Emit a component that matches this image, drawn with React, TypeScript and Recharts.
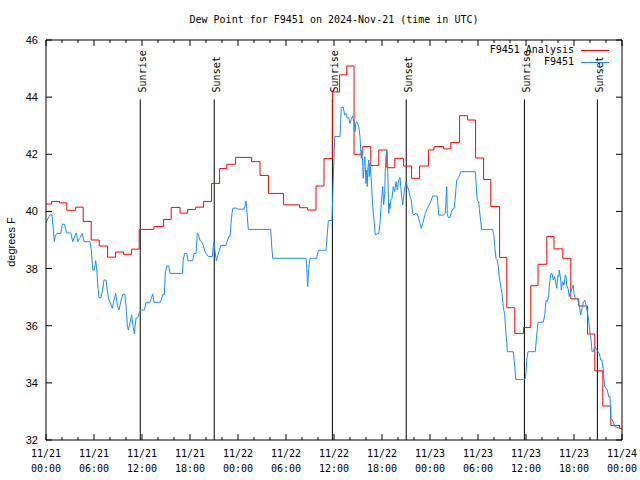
import React from 'react';
import { LineChart, Line, XAxis, YAxis, ReferenceLine } from 'recharts';

// hours since 11/21 00:00 UTC, dew point in degrees F
const analysisHours = [
  0, 0.7, 1.7, 2.6, 3.7, 4.65, 5.65, 6.65, 7.7, 8.7, 9.7, 10.7, 11.65, 13.5, 14.7,
  15.65, 16.75, 17.7, 18.7, 19.7, 20.7, 21.7, 22.6, 23.7, 25.7, 26.75, 27.8, 29.7,
  31.7, 32.7, 33.75, 34.75, 35.8, 36.7, 37.6, 38.5, 39.6, 40.6, 41.6, 42.6, 43.6,
  44.7, 45.7, 46.7, 47.8, 48.5, 49.7, 50.6, 51.7, 52.7, 53.7, 54.7, 55.6, 56.7,
  57.6, 58.6, 59.7, 60.6, 61.5, 62.6, 63.5, 64.6, 65.6, 66.6, 67.7, 68.6, 69.6,
  70.6, 71.7, 72,
];
const analysisDew = [
  40.26, 40.35, 40.3, 40.04, 40.15, 39.65, 39.0, 38.79, 38.4, 38.58, 38.5, 38.68,
  39.37, 39.47, 39.72, 40.14, 39.94, 40.07, 40.15, 40.35, 40.98, 41.5, 41.65, 41.89,
  41.74, 41.26, 40.63, 40.23, 40.13, 40.05, 40.89, 41.85, 44.18, 44.78, 45.09, 42.0,
  42.27, 41.61, 42.15, 41.53, 41.86, 41.59, 41.16, 41.59, 42.15, 42.27, 42.19, 42.41,
  43.35, 43.2, 41.87, 41.12, 40.17, 38.39, 36.63, 35.73, 35.94, 37.4, 38.15, 39.12,
  38.69, 38.36, 36.94, 36.69, 35.71, 34.42, 33.19, 32.51, 32.4, 32.4,
];

// station readings [hour, dew]
const obsDay1 = [
  [0, 39.6], [0.25, 39.76], [0.5, 39.88], [0.75, 39.88], [0.91, 39.35], [1.04, 38.94],
  [1.16, 39.14], [1.34, 39.23], [1.85, 39.23], [2.04, 39.55], [2.3, 39.55], [2.59, 39.25],
  [3.1, 39.25], [3.34, 38.94], [3.55, 39.1], [3.79, 39.25], [3.98, 38.94], [4.2, 39.05],
  [4.54, 39.23], [4.75, 38.94], [5.5, 38.94], [5.66, 38.67], [5.84, 37.95], [6.05, 37.95],
  [6.21, 38.28], [6.35, 37.95], [6.5, 37.31], [6.63, 36.98], [6.85, 36.98], [7.05, 37.2],
  [7.25, 37.6], [7.5, 37.6], [7.65, 37.25], [7.84, 36.93], [8.05, 36.8], [8.29, 36.61],
  [8.5, 36.9], [8.71, 37.13], [8.92, 36.7], [9.13, 36.55], [9.35, 36.85], [9.59, 37.1],
  [9.85, 37.1], [10.0, 36.7], [10.16, 36.03], [10.29, 35.85], [10.5, 36.1], [10.71, 36.38],
  [10.9, 35.95], [11.04, 35.71], [11.25, 36.26], [11.5, 36.3], [11.71, 36.49], [11.91, 36.55],
  [12.3, 36.55], [12.5, 36.82], [13.0, 36.82], [13.15, 36.95], [13.34, 37.1], [13.5, 36.82],
  [14.3, 36.82], [14.45, 36.95], [14.59, 37.1], [14.8, 37.1], [14.91, 37.83], [15.09, 38.09],
  [15.35, 38.09], [15.5, 37.83], [17.05, 37.83], [17.16, 38.32], [17.34, 38.53], [17.6, 38.53],
  [17.75, 38.27], [18.33, 38.27], [18.5, 38.53], [18.75, 38.53], [18.91, 39.23], [19.05, 39.2],
  [19.25, 38.98], [19.45, 38.95], [19.66, 38.8], [19.88, 38.59], [20.29, 38.42], [20.79, 38.42],
  [20.91, 38.79], [21.0, 38.92], [21.13, 38.6], [21.29, 38.27], [21.46, 38.45], [21.66, 38.62],
  [21.84, 38.81], [22.5, 38.81], [22.66, 38.95], [22.84, 39.12], [23.0, 39.12], [23.16, 39.7],
  [23.34, 40.11], [23.75, 40.12], [24.04, 40.08],
];
const obsDay2 = [
  [24.75, 40.08], [24.88, 40.2], [25.0, 40.37], [25.09, 40.1], [25.29, 39.37], [28.09, 39.37],
  [28.21, 38.8], [28.34, 38.36], [32.5, 38.36], [32.59, 38.0], [32.71, 37.37], [32.84, 38.0],
  [33.0, 38.36], [33.84, 38.36], [33.96, 38.55], [34.09, 38.64], [35.0, 38.64], [35.16, 39.2],
  [35.29, 39.68], [35.75, 39.68], [35.91, 41.1], [36.09, 42.62], [36.75, 42.62], [36.91, 43.64],
  [37.16, 43.64], [37.34, 43.37], [37.5, 43.43], [37.66, 43.26], [37.84, 43.29], [38.0, 43.08],
  [38.16, 43.22], [38.34, 43.34], [38.5, 43.14], [38.63, 42.79], [38.75, 43.12], [38.91, 43.12],
  [39.09, 42.97], [39.25, 42.62], [39.34, 42.15], [39.41, 41.86], [39.5, 42.15], [39.59, 41.57],
  [39.66, 41.16], [39.75, 41.57], [39.84, 41.92], [39.91, 41.57], [40.0, 40.98], [40.09, 41.45],
  [40.16, 40.87], [40.25, 41.57], [40.34, 41.8], [40.41, 41.22], [40.5, 41.68], [40.66, 41.1],
  [40.84, 40.17], [41.0, 39.7], [41.16, 39.18], [41.59, 39.23], [41.75, 39.58], [41.91, 40.28],
  [42.09, 40.87], [42.21, 40.23], [42.34, 40.63], [42.41, 41.45], [42.5, 41.92], [42.59, 42.15],
  [42.66, 42.03], [42.75, 41.04], [42.84, 39.93], [42.91, 40.28], [43.0, 40.1], [43.09, 40.4],
  [43.25, 40.46], [43.41, 40.87], [43.59, 40.69], [43.75, 41.04], [43.91, 40.75], [44.09, 41.1],
  [44.25, 41.19], [44.34, 40.87], [44.46, 40.52], [44.59, 40.23], [44.66, 40.4], [44.84, 40.81],
  [45.0, 41.04], [45.16, 40.87], [45.34, 40.75], [45.5, 40.52], [45.66, 40.4], [45.84, 39.93],
  [46.0, 39.87], [46.16, 39.93], [46.41, 39.91], [46.59, 39.76], [46.75, 39.58], [46.91, 39.41],
  [47.09, 39.58], [47.25, 39.76], [47.41, 39.93], [47.66, 40.1], [47.91, 40.23],
];
const obsDay3 = [
  [48.16, 40.4], [48.34, 40.54], [48.91, 40.54], [49.09, 39.87], [49.66, 39.87], [49.91, 39.93],
  [50.09, 40.87], [50.16, 39.93], [50.29, 39.79], [50.5, 39.79], [50.75, 40.05], [51.0, 40.1],
  [51.13, 40.4], [51.34, 41.1], [51.59, 41.19], [51.84, 41.39], [53.66, 41.39], [53.75, 41.04],
  [53.91, 40.4], [54.09, 40.34], [54.16, 40.11], [54.34, 39.64], [54.46, 39.37], [55.84, 39.37],
  [56.0, 39.12], [56.13, 38.65], [56.25, 38.36], [56.41, 38.3], [56.54, 38.07], [56.66, 37.72],
  [56.84, 37.37], [57.0, 37.13], [57.16, 36.67], [57.34, 36.38], [57.41, 36.08], [57.5, 35.73],
  [57.59, 35.44], [57.66, 35.09], [58.41, 35.09], [58.5, 34.86], [58.63, 34.45], [58.71, 34.12],
  [59.88, 34.12], [60.0, 34.39], [60.09, 34.8], [60.25, 35.09], [61.16, 35.09], [61.34, 35.67],
  [61.5, 36.12], [62.16, 36.12], [62.34, 36.38], [62.5, 36.88], [62.66, 36.84], [62.84, 37.04],
  [62.91, 37.37], [63.09, 37.81], [63.25, 37.83], [63.41, 37.6], [63.59, 37.72], [63.75, 37.46],
  [63.84, 37.31], [64.0, 37.78], [64.09, 37.72], [64.16, 37.95], [64.25, 37.78], [64.34, 37.6],
  [64.41, 37.25], [64.59, 37.54], [64.75, 37.42], [64.91, 37.78], [65.0, 37.72], [65.09, 37.42],
  [65.25, 37.31], [65.41, 37.02], [65.59, 37.2], [65.75, 37.31], [65.91, 37.42], [66.0, 37.13],
  [66.16, 36.96], [66.41, 36.96], [66.59, 36.79], [66.75, 36.55], [66.84, 36.38], [67.0, 36.6],
  [67.16, 36.79], [67.34, 36.9], [67.5, 36.73], [67.66, 36.49], [67.84, 36.2], [68.0, 35.73],
  [68.16, 35.44], [68.25, 35.09], [68.41, 35.09], [68.59, 35.27], [68.75, 35.21], [69.0, 35.09],
  [69.16, 35.03], [69.34, 34.8], [69.5, 34.8], [69.66, 34.45], [69.84, 33.87], [70.16, 33.75],
  [70.34, 33.52], [70.5, 33.52], [70.59, 32.76], [70.75, 32.71], [70.91, 32.64], [71.09, 32.47],
  [71.5, 32.43], [71.66, 32.41],
];

const sunEvents = ['Sunrise', 'Sunset', 'Sunrise', 'Sunset', 'Sunrise', 'Sunset'];
const sunHours = [11.78, 21.03, 35.8, 45.03, 59.8, 68.92];
const sunLineTop = 43.92;

const xTickHours = [
  0, 2, 4, 6, 8, 10, 12, 14, 16, 18, 20, 22, 24, 26, 28, 30, 32, 34, 36,
  38, 40, 42, 44, 46, 48, 50, 52, 54, 56, 58, 60, 62, 64, 66, 68, 70, 72,
];
const xMajorHours = [0, 6, 12, 18, 24, 30, 36, 42, 48, 54, 60, 66, 72];
const xMajorDates = ['11/21', '11/21', '11/21', '11/21', '11/22', '11/22', '11/22', '11/22', '11/23', '11/23', '11/23', '11/23', '11/24'];
const xMajorTimes = ['00:00', '06:00', '12:00', '18:00', '00:00', '06:00', '12:00', '18:00', '00:00', '06:00', '12:00', '18:00', '00:00'];
const yTicks = [32, 34, 36, 38, 40, 42, 44, 46];

const seriesNames = ['F9451 Analysis', 'F9451'];
const seriesColors = ['#ff0000', '#1a8cff'];

const MONO = '"DejaVu Sans Mono", monospace';
const SANS = '"Liberation Sans", Arial, sans-serif';

const analysisData = analysisHours.map((h, i) => ({ h, v: analysisDew[i] }));
const obsData = [...obsDay1, ...obsDay2, ...obsDay3].map(([h, v]) => ({ h, v }));

function BottomTick({ x, y, payload }: any) {
  const idx = xMajorHours.indexOf(payload.value);
  const major = idx >= 0;
  return (
    <g>
      <line x1={x} x2={x} y1={y} y2={y - (major ? 6 : 3)} stroke="#000" />
      {major && (
        <text x={x} y={y + 17} textAnchor="middle" fontFamily={MONO} fontSize={10} fill="#000">
          {xMajorDates[idx]}
        </text>
      )}
      {major && (
        <text x={x} y={y + 32} textAnchor="middle" fontFamily={MONO} fontSize={10} fill="#000">
          {xMajorTimes[idx]}
        </text>
      )}
    </g>
  );
}

function TopTick({ x, y, payload }: any) {
  const major = xMajorHours.includes(payload.value);
  return <line x1={x} x2={x} y1={y} y2={y + (major ? 6 : 3)} stroke="#000" />;
}

function LeftTick({ x, y, payload }: any) {
  return (
    <g>
      <line x1={x} x2={x + 6} y1={y} y2={y} stroke="#000" />
      <text x={x - 8} y={y + 4} textAnchor="end" fontFamily={SANS} fontSize={11} fill="#000">
        {payload.value}
      </text>
    </g>
  );
}

function RightTick({ x, y }: any) {
  return <line x1={x} x2={x - 6} y1={y} y2={y} stroke="#000" />;
}

const sunLabel = (text: string) => (props: any) => {
  const vb = props.viewBox;
  if (!vb) return null;
  return (
    <text
      transform={`translate(${vb.x + 6},${vb.y - 7}) rotate(-90)`}
      fontFamily={MONO}
      fontSize={10}
      fill="#000"
    >
      {text}
    </text>
  );
};

export default function App() {
  return (
    <div style={{ position: 'absolute', left: 0, top: 0, width: 640, height: 480, background: '#fff' }}>
      <LineChart width={640} height={480} margin={{ top: 39, right: 17, bottom: 39, left: 45 }}>
        <XAxis
          dataKey="h"
          type="number"
          domain={[0, 72]}
          allowDataOverflow
          ticks={xTickHours}
          interval={0}
          height={1}
          tickSize={0}
          tickMargin={0}
          tickLine={false}
          axisLine={{ stroke: '#000' }}
          tick={<BottomTick />}
        />
        <XAxis
          xAxisId="top"
          orientation="top"
          dataKey="h"
          type="number"
          domain={[0, 72]}
          allowDataOverflow
          ticks={xTickHours}
          interval={0}
          height={1}
          tickSize={0}
          tickMargin={0}
          tickLine={false}
          axisLine={{ stroke: '#000' }}
          tick={<TopTick />}
        />
        <YAxis
          type="number"
          domain={[32, 46]}
          allowDataOverflow
          ticks={yTicks}
          interval={0}
          width={1}
          tickSize={0}
          tickMargin={0}
          tickLine={false}
          axisLine={{ stroke: '#000' }}
          tick={<LeftTick />}
        />
        <YAxis
          yAxisId="right"
          orientation="right"
          type="number"
          domain={[32, 46]}
          allowDataOverflow
          ticks={yTicks}
          interval={0}
          width={1}
          tickSize={0}
          tickMargin={0}
          tickLine={false}
          axisLine={{ stroke: '#000' }}
          tick={<RightTick />}
        />
        {sunHours.map((h, i) => (
          <ReferenceLine
            key={i}
            segment={[{ x: h, y: 32 }, { x: h, y: sunLineTop }]}
            stroke="#000"
            strokeWidth={1}
            label={sunLabel(sunEvents[i])}
          />
        ))}
        <Line
          data={analysisData}
          dataKey="v"
          name={seriesNames[0]}
          type="stepAfter"
          stroke={seriesColors[0]}
          strokeWidth={1}
          dot={false}
          isAnimationActive={false}
        />
        <Line
          data={obsData}
          dataKey="v"
          name={seriesNames[1]}
          type="linear"
          stroke={seriesColors[1]}
          strokeWidth={1}
          dot={false}
          isAnimationActive={false}
        />
      </LineChart>

      <div
        style={{
          position: 'absolute', left: 0, width: 668, top: 13.5, textAlign: 'center',
          fontFamily: MONO, fontSize: 10, lineHeight: '12px', color: '#000',
        }}
      >
        Dew Point for F9451 on 2024-Nov-21 (time in UTC)
      </div>

      <div
        style={{
          position: 'absolute', left: 10.5, top: 242, transform: 'translate(-50%, -50%) rotate(-90deg)',
          fontFamily: SANS, fontSize: 11, lineHeight: '12px', whiteSpace: 'nowrap', color: '#000',
        }}
      >
        degrees F
      </div>

      {seriesNames.map((name, i) => (
        <React.Fragment key={name}>
          <div
            style={{
              position: 'absolute', right: 66, top: 44 + i * 12, fontFamily: MONO, fontSize: 10,
              lineHeight: '12px', whiteSpace: 'pre', color: '#000',
            }}
          >
            {name}
          </div>
          <div
            style={{
              position: 'absolute', left: 581, width: 28, top: 50 + i * 12, height: 0,
              borderTop: `1px solid ${seriesColors[i]}`,
            }}
          />
        </React.Fragment>
      ))}
    </div>
  );
}
